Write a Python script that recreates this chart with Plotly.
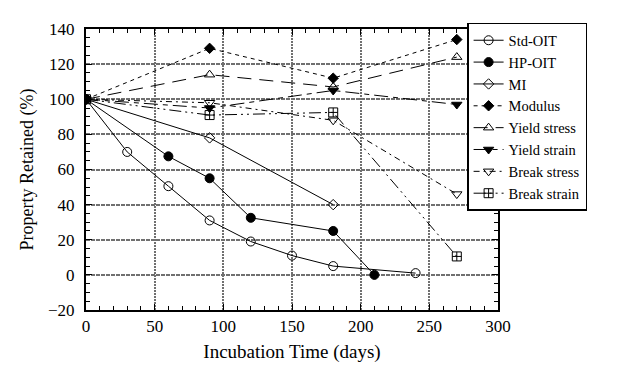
import plotly.graph_objects as go

# Data (incubation days -> property retained %)
std_oit_x = [0, 30, 60, 90, 120, 150, 180, 240]
std_oit_y = [100, 70, 50.5, 31, 19, 11, 5, 1]

hp_oit_x = [0, 60, 90, 120, 180, 210]
hp_oit_y = [100, 67.5, 55, 32.5, 25, 0]

mi_x = [0, 90, 180]
mi_y = [100, 78, 40]

modulus_x = [0, 90, 180, 270]
modulus_y = [100, 129, 112, 134]

yield_stress_x = [0, 90, 180, 270]
yield_stress_y = [100, 114, 107, 124]

yield_strain_x = [0, 90, 180, 270]
yield_strain_y = [100, 95, 105, 97]

break_stress_x = [0, 90, 180, 270]
break_stress_y = [100, 98, 88, 46]

break_strain_x = [0, 90, 180, 270]
break_strain_y = [100, 91, 92.5, 10.5]

FONT = "Liberation Serif"

series = [
    ("Std-OIT", std_oit_x, std_oit_y, "solid", "circle-open", 9),
    ("HP-OIT", hp_oit_x, hp_oit_y, "solid", "circle", 9),
    ("MI", mi_x, mi_y, "solid", "diamond-open", 8),
    ("Modulus", modulus_x, modulus_y, "4px,4px", "diamond", 8),
    ("Yield stress", yield_stress_x, yield_stress_y, "14px,8px", "triangle-up-open", 9),
    ("Yield strain", yield_strain_x, yield_strain_y, "14px,5px,5px,5px", "triangle-down", 9),
    ("Break stress", break_stress_x, break_stress_y, "6px,4px,2px,4px", "triangle-down-open", 9),
    ("Break strain", break_strain_x, break_strain_y, "12px,4px,2px,4px,2px,4px", "square-cross-open", 9),
]

fig = go.Figure()
for name, xs, ys, dash, sym, size in series:
    fig.add_trace(go.Scatter(
        x=xs, y=ys, name=name, mode="lines+markers",
        line=dict(color="black", width=1, dash=dash),
        marker=dict(symbol=sym, size=size, color="black",
                    line=dict(color="black", width=1)),
    ))

axis_common = dict(
    showline=True, linecolor="black", linewidth=2, mirror="allticks",
    ticks="inside", ticklen=6, tickcolor="black", tickwidth=1,
    showgrid=True, gridcolor="#707070", gridwidth=1.5,
    zeroline=False,
    tickfont=dict(family=FONT, size=17, color="black"),
)

fig.update_xaxes(
    range=[0, 300], dtick=50, tick0=0,
    minor=dict(ticks="inside", ticklen=4, dtick=10, tickcolor="black", showgrid=False),
    griddash="2px,1px",
    ticklabelstandoff=0,
    title=dict(text="Incubation Time (days)", font=dict(family=FONT, size=19, color="black"), standoff=9),
    **axis_common,
)
fig.update_yaxes(
    range=[-20, 140], dtick=20, tick0=0,
    minor=dict(ticks="inside", ticklen=4, dtick=5, tickcolor="black", showgrid=False),
    griddash="4px,1px",
    ticklabelstandoff=6,
    title=dict(text="Property Retained (%)", font=dict(family=FONT, size=18, color="black"), standoff=10),
    **axis_common,
)

fig.update_layout(
    width=619, height=370,
    margin=dict(l=78, r=129, t=16, b=68),
    paper_bgcolor="white", plot_bgcolor="white",
    font=dict(family=FONT, color="black"),
    legend=dict(
        x=0.925, y=1.022, xanchor="left", yanchor="top",
        bgcolor="white", bordercolor="black", borderwidth=1.5,
        font=dict(family=FONT, size=14.5, color="black"),
        tracegroupgap=0, itemwidth=30, maxheight=360,
        entrywidth=118, entrywidthmode="pixels",
    ),
    showlegend=True,
)

fig.write_html("out.html")
